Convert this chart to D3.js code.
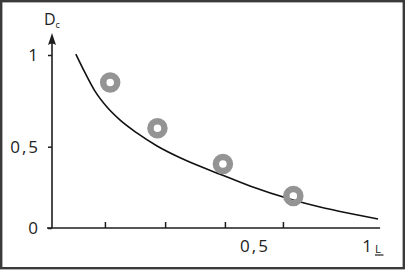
<!DOCTYPE html>
<html>
<head>
<meta charset="utf-8">
<script src="https://cdn.jsdelivr.net/npm/d3@7"></script>
<style>
  body { margin: 0; background: #fff; }
  svg { display: block; }
  text { font-family: "Open Sans", sans-serif; fill: #222; }
</style>
</head>
<body>
<svg width="407" height="271"></svg>
<script>
// measured ring positions (L, Dc)
const pointL = [0.144, 0.261, 0.423, 0.674]
const pointD = [0.85, 0.60, 0.394, 0.197]

// fitted curve
const curveL = [0.059, 0.082, 0.106, 0.136, 0.168, 0.210, 0.260, 0.324, 0.421, 0.490, 0.673, 0.792, 0.925, 1.049]
const curveD = [1.005, 0.902, 0.804, 0.716, 0.646, 0.575, 0.504, 0.424, 0.326, 0.258, 0.172, 0.129, 0.089, 0.055]

const xMarks = [0.131, 0.280, 0.428, 0.628]   // unlabeled ticks on the L axis
const xLabels = [0.5, 1]
const xLabelText = ['0,5', '1']
const yTicks = [0, 0.5, 1]
const yLabelText = ['0', '0,5', '1']

const svg = d3.select('svg')

svg.append('rect')
  .attr('x', 1.2).attr('y', 1.2)
  .attr('width', 402.6).attr('height', 267)
  .attr('fill', 'none')
  .attr('stroke', '#3a3a3a')
  .attr('stroke-width', 2.4)

// the printed axis is not evenly spaced, so piecewise scales
const x = d3.scaleLinear().domain([0, 0.5, 1]).range([52, 254, 367])
const y = d3.scaleLinear().domain([0, 0.5, 1]).range([228, 146.7, 55])

const ink = '#1e1e1e'

// x axis line
svg.append('line')
  .attr('x1', 47).attr('x2', x(1.058))
  .attr('y1', y(0)).attr('y2', y(0))
  .attr('stroke', ink).attr('stroke-width', 1.6)

const xTickG = svg.append('g')
  .attr('transform', `translate(0,${y(0)})`)
  .call(d3.axisBottom(x).tickValues(xMarks).tickSize(-6).tickFormat(''))
xTickG.select('.domain').remove()
xTickG.selectAll('line').attr('stroke', ink).attr('stroke-width', 1.5)

svg.selectAll('.xlab').data(xLabels).enter().append('text')
  .attr('class', 'xlab')
  .attr('x', d => x(d) + 1)
  .attr('y', 251.5)
  .attr('text-anchor', 'middle')
  .attr('font-size', 17)
  .attr('letter-spacing', 2)
  .text((d, i) => xLabelText[i])

svg.append('text')
  .attr('x', x(1) + 8)
  .attr('y', 252.8)
  .attr('font-size', 11.5)
  .text('L')
svg.append('line')
  .attr('x1', x(1) + 8).attr('x2', x(1) + 16.5)
  .attr('y1', 255).attr('y2', 255)
  .attr('stroke', ink).attr('stroke-width', 1.2)

// y axis with arrow
svg.append('line')
  .attr('x1', x(0)).attr('x2', x(0))
  .attr('y1', y(0)).attr('y2', 40)
  .attr('stroke', ink).attr('stroke-width', 1.6)
svg.append('path')
  .attr('d', `M${x(0)},33 L${x(0) + 4},45 Q${x(0)},42 ${x(0) - 4},45 Z`)
  .attr('fill', ink)

const yAxis = svg.append('g')
  .attr('transform', `translate(${x(0)},0)`)
  .call(d3.axisLeft(y).tickValues(yTicks).tickSize(4).tickPadding(8)
    .tickFormat((d, i) => yLabelText[i]))
yAxis.select('.domain').remove()
yAxis.selectAll('line').attr('stroke', ink).attr('stroke-width', 1.5)
yAxis.selectAll('text')
  .attr('font-family', '"Open Sans", sans-serif')
  .attr('font-size', 17)
  .attr('letter-spacing', 2)
  .attr('fill', '#222')
  .attr('dy', '0.35em')

const dLab = svg.append('text')
  .attr('x', 44)
  .attr('y', 25)
  .attr('font-size', 16)
  .text('D')
dLab.append('tspan')
  .attr('font-size', 9)
  .attr('dy', 3)
  .text('c')

// curve
const curveData = curveL.map((l, i) => [l, curveD[i]])
svg.append('path')
  .datum(curveData)
  .attr('fill', 'none')
  .attr('stroke', '#111')
  .attr('stroke-width', 1.6)
  .attr('d', d3.line().x(d => x(d[0])).y(d => y(d[1])).curve(d3.curveMonotoneX))

// rings
svg.selectAll('.ring').data(pointL).enter().append('circle')
  .attr('class', 'ring')
  .attr('cx', d => x(d))
  .attr('cy', (d, i) => y(pointD[i]))
  .attr('r', 7)
  .attr('fill', 'none')
  .attr('stroke', '#949494')
  .attr('stroke-width', 6.5)
</script>
</body>
</html>
